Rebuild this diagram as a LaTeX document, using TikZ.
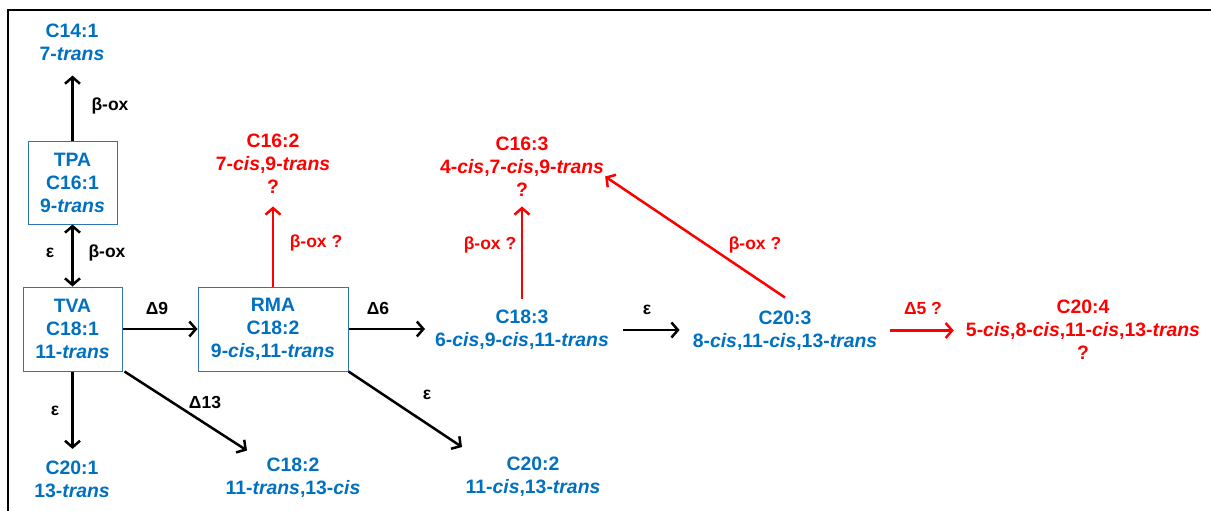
\documentclass[tikz,border=0pt]{standalone}
\usepackage{fontspec}
\setmainfont{Liberation Sans}
\usetikzlibrary{arrows.meta,calc}
\definecolor{tblue}{RGB}{0,112,192}
\definecolor{bblue}{RGB}{46,117,182}
\definecolor{tred}{RGB}{255,0,0}
\tikzset{
  mol/.style={font=\bfseries\fontsize{19.4}{23}\selectfont, align=center, inner sep=0pt, text=tblue},
  redmol/.style={mol, text=tred},
  molbox/.style={mol, draw=bblue, line width=1pt, minimum height=84pt},
  lab/.style={font=\bfseries\fontsize{17.5}{20}\selectfont, inner sep=0pt, anchor=mid},
  redlab/.style={lab, text=tred},
  arr/.style={line width=2.5pt, -{Straight Barb[length=6.5pt,width=15pt]}},
  dblarr/.style={line width=2.5pt, {Straight Barb[length=6.5pt,width=15pt]}-{Straight Barb[length=6.5pt,width=15pt]}},
  redarr/.style={arr, draw=tred},
}
\begin{document}
\begin{tikzpicture}[x=1pt,y=-1pt]
\useasboundingbox (0,0) rectangle (1211,511);
\draw[line width=2pt] (8,512) -- (8,10) -- (1212,10);

% molecules
\node[mol] (c141) at (72,42) {C14:1\\7-\textit{trans}};
\node[molbox, minimum width=89pt, minimum height=83pt] (tpa) at (72.5,182.5) {TPA\\C16:1\\9-\textit{trans}};
\node[molbox, minimum width=99pt] (tva) at (72.5,329) {TVA\\C18:1\\11-\textit{trans}};
\node[molbox, minimum width=150pt] (rma) at (273,329) {RMA\\C18:2\\9-\textit{cis},11-\textit{trans}};
\node[redmol] (c162) at (273,163.5) {C16:2\\7-\textit{cis},9-\textit{trans}\\?};
\node[redmol] (c163) at (522,166.5) {C16:3\\4-\textit{cis},7-\textit{cis},9-\textit{trans}\\?};
\node[mol] (c183) at (522,330) {C18:3\\6-\textit{cis},9-\textit{cis},11-\textit{trans}};
\node[mol] (c203) at (785,330.5) {C20:3\\8-\textit{cis},11-\textit{cis},13-\textit{trans}};
\node[redmol] (c204) at (1083,330) {C20:4\\5-\textit{cis},8-\textit{cis},11-\textit{cis},13-\textit{trans}\\?};
\node[mol] (c201) at (72,479.5) {C20:1\\13-\textit{trans}};
\node[mol] (c182b) at (293,477.5) {C18:2\\11-\textit{trans},13-\textit{cis}};
\node[mol] (c202) at (533,477) {C20:2\\11-\textit{cis},13-\textit{trans}};

% connectors
\draw[arr, shorten >=15pt] (tpa.north) -- (tpa.north |- c141.south);
\draw[dblarr] (tpa.south) -- (tva.north);
\draw[arr, shorten >=12pt] (tva.south) -- (tva.south |- c201.north);
\draw[arr] (tva.east) -- (rma.west);
\draw[arr] ($(tva.south east)+(2,0)$) -- ($(c182b.north)+(-46,-7)$);
\draw[arr, shorten >=10pt] (rma.east) -- (rma.east -| c183.west);
\draw[redarr, shorten >=13pt] (rma.north) -- (rma.north |- c162.south);
\draw[arr] (rma.south east) -- ($(c202.north)+(-71,-10)$);
\draw[redarr, shorten <=11pt, shorten >=10pt] (c183.north) -- (c183.north |- c163.south);
\draw[arr, shorten <=14pt, shorten >=13pt] (c183.east) -- (c183.east -| c203.west);
\draw[redarr] ($(c203.north)+(0,-13)$) -- ($(c163.east)+(1,10)$);
\draw[redarr, shorten <=13pt, shorten >=12pt] (c203.east) -- (c203.east -| c204.west);

% labels
\node[lab] (l1) at (110,108) {β-ox};
\node[lab] (l2) at (50,255) {ε};
\node[lab] (l3) at (107,255) {β-ox};
\node[lab] (l4) at (157,312) {Δ9};
\node[lab] (l5) at (378,312) {Δ6};
\node[lab] (l6) at (55,413) {ε};
\node[lab] (l7) at (205,406) {Δ13};
\node[lab] (l8) at (427,397) {ε};
\node[lab] (l9) at (647,312) {ε};
\node[redlab] (r1) at (316,245) {β-ox ?};
\node[redlab] (r2) at (490,247) {β-ox ?};
\node[redlab] (r3) at (755,247) {β-ox ?};
\node[redlab] (r4) at (923,312) {Δ5 ?};
\end{tikzpicture}
\end{document}
